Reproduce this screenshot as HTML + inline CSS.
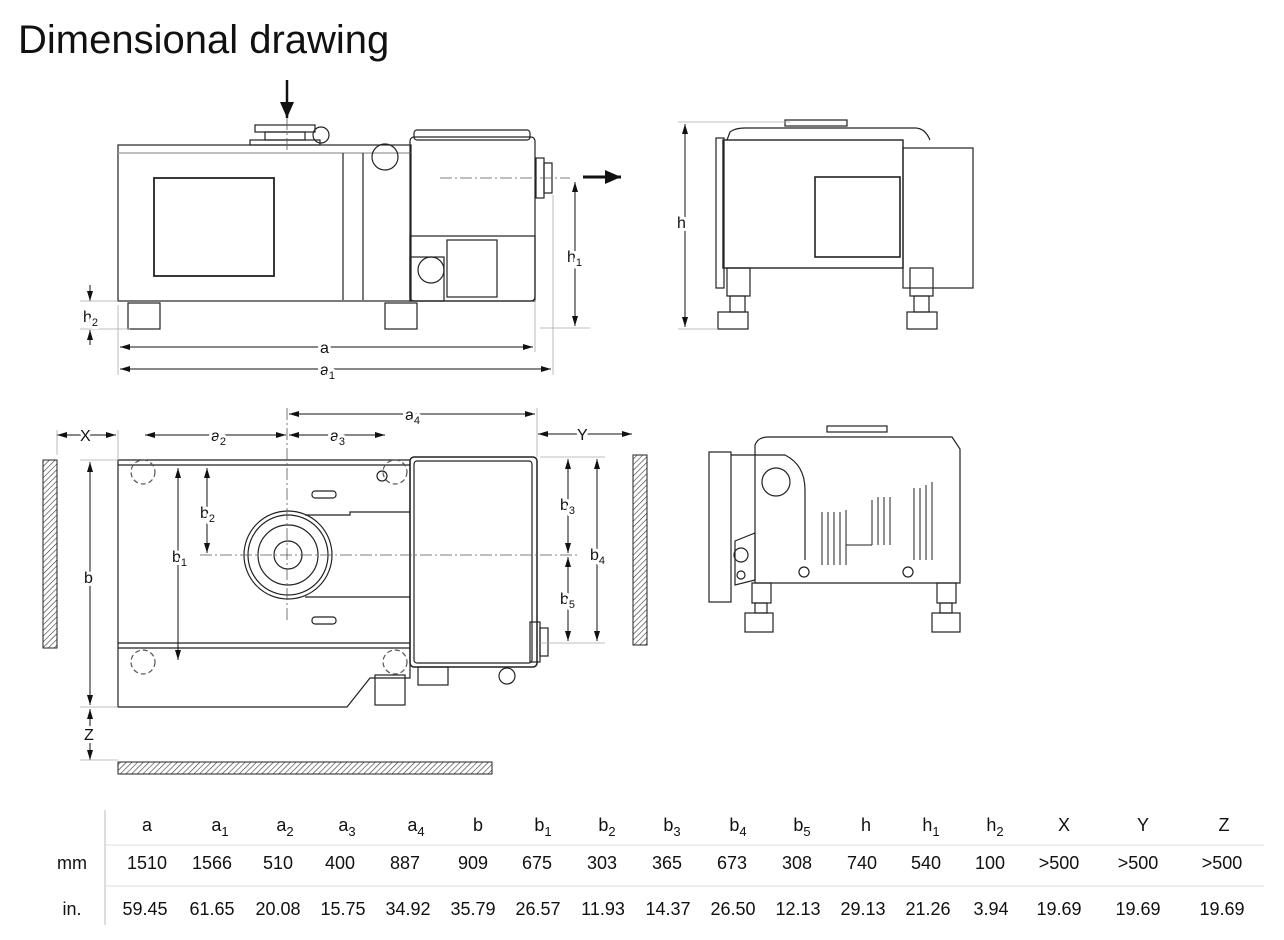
<!DOCTYPE html>
<html><head><meta charset="utf-8"><style>
body{margin:0;background:#fff}
svg{display:block}
text{font-family:"Liberation Sans",sans-serif;fill:#111}
.lb text{paint-order:stroke;stroke:#fff;stroke-width:6px;stroke-linejoin:round}
</style></head><body>
<svg width="1284" height="940" viewBox="0 0 1284 940" xmlns="http://www.w3.org/2000/svg">
<defs>
<pattern id="h" width="4" height="4" patternUnits="userSpaceOnUse" patternTransform="rotate(45)"><line x1="0" y1="0" x2="0" y2="4" stroke="#333" stroke-width="1.2"/></pattern>
<marker id="ar" markerWidth="10" markerHeight="6" refX="10" refY="3" orient="auto-start-reverse" markerUnits="userSpaceOnUse"><path d="M0,0 L10,3 L0,6z" fill="#111"/></marker>
<marker id="big" markerWidth="16" markerHeight="14" refX="16" refY="7" orient="auto" markerUnits="userSpaceOnUse"><path d="M0,0 L16,7 L0,14z" fill="#111"/></marker>
</defs>
<text x="18" y="53" font-size="40" fill="#222">Dimensional drawing</text>

<g fill="none" stroke="#222" stroke-width="1.2">
<!-- top-left view -->
<rect x="118" y="145" width="293" height="156"/>
<line x1="118" y1="153" x2="411" y2="153" stroke="#999"/>
<rect x="154" y="178" width="120" height="98" stroke-width="1.8"/>
<line x1="343" y1="153" x2="343" y2="300"/><line x1="363" y1="153" x2="363" y2="300"/>
<rect x="410" y="137" width="125" height="164" rx="4"/>
<rect x="414" y="130" width="116" height="10" rx="3"/>
<rect x="410" y="236" width="125" height="65"/>
<rect x="410" y="257" width="34" height="44"/>
<circle cx="431" cy="270" r="13"/>
<rect x="447" y="240" width="50" height="57"/>
<rect x="536" y="158" width="8" height="40"/><rect x="544" y="163" width="8" height="30"/>
<rect x="255" y="125" width="60" height="7"/><rect x="265" y="132" width="40" height="8"/>
<rect x="250" y="140" width="70" height="5"/>
<circle cx="321" cy="135" r="8"/>
<circle cx="385" cy="157" r="13"/>
<rect x="128" y="303" width="32" height="26"/><rect x="385" y="303" width="32" height="26"/>
<!-- top-right view -->
<rect x="723" y="140" width="180" height="128" stroke-width="1.4"/>
<rect x="716" y="138" width="8" height="150"/>
<path d="M727 140 L730 132 Q735 128 745 128 L915 128 Q925 128 930 140"/>
<rect x="785" y="120" width="62" height="6"/>
<rect x="903" y="148" width="70" height="140"/>
<rect x="815" y="177" width="85" height="80" stroke-width="1.6"/>
<rect x="727" y="268" width="23" height="28"/><rect x="910" y="268" width="23" height="28"/>
<rect x="730" y="296" width="15" height="16"/><rect x="914" y="296" width="15" height="16"/>
<rect x="718" y="312" width="30" height="17"/><rect x="907" y="312" width="30" height="17"/>
<!-- bottom-left top view -->
<path d="M118 460 L410 460 L410 678 L370 678 L347 707 L118 707 Z"/>
<line x1="118" y1="465" x2="410" y2="465"/>
<line x1="118" y1="643" x2="410" y2="643"/><line x1="118" y1="648" x2="410" y2="648"/>
<rect x="410" y="457" width="127" height="210" rx="4" stroke-width="1.5"/>
<rect x="414" y="461" width="118" height="202" rx="3"/>
<circle cx="288" cy="555" r="44"/><circle cx="288" cy="555" r="40"/><circle cx="288" cy="555" r="30"/>
<circle cx="288" cy="555" r="14"/>
<path d="M305 515 L350 515 L350 512 L380 512 L410 512"/><path d="M305 597 L410 597"/>
<rect x="312" y="491" width="24" height="7" rx="3"/><rect x="312" y="617" width="24" height="7" rx="3"/>
<circle cx="382" cy="476" r="5"/>
<rect x="530" y="622" width="10" height="40"/><rect x="540" y="628" width="8" height="28"/>
<rect x="375" y="675" width="30" height="30"/>
<rect x="418" y="667" width="30" height="18"/>
<circle cx="507" cy="676" r="8"/>
<g stroke-dasharray="5,3" stroke="#555"><circle cx="143" cy="472" r="12"/><circle cx="395" cy="472" r="12"/><circle cx="143" cy="662" r="12"/><circle cx="395" cy="662" r="12"/></g>
<!-- bottom-right side view -->
<path d="M755 583 L755 445 Q758 437 768 437 L952 437 L960 449 L960 583 Z"/>
<rect x="709" y="452" width="22" height="150"/>
<path d="M731 455 L755 455 M735 541 L755 533 L755 580 L735 585 Z"/>
<path d="M755 455 L785 455 Q805 465 805 490 L805 560"/>
<circle cx="776" cy="482" r="14"/>
<circle cx="741" cy="555" r="7"/><circle cx="741" cy="575" r="4"/>
<rect x="827" y="426" width="60" height="6"/>
<g stroke-width="1"><path d="M822 565 L822 512 M828 565 L828 512 M834 565 L834 512 M840 565 L840 512 M846 565 L846 510 M846 545 L872 545 M872 545 L872 500 M878 545 L878 497 M884 545 L884 497 M890 545 L890 497 M914 560 L914 488 M920 560 L920 488 M926 560 L926 485 M932 560 L932 482"/></g>
<circle cx="804" cy="572" r="5"/><circle cx="908" cy="572" r="5"/>
<rect x="752" y="583" width="19" height="20"/><rect x="937" y="583" width="19" height="20"/>
<rect x="755" y="603" width="12" height="10"/><rect x="940" y="603" width="12" height="10"/>
<rect x="745" y="613" width="28" height="19"/><rect x="932" y="613" width="28" height="19"/>
</g>
<!-- hatches -->
<rect x="43" y="460" width="14" height="188" fill="url(#h)" stroke="#222"/>
<rect x="633" y="455" width="14" height="190" fill="url(#h)" stroke="#222"/>
<rect x="118" y="762" width="374" height="12" fill="url(#h)" stroke="#222"/>

<!-- center lines -->
<g stroke="#555" stroke-width="0.8" stroke-dasharray="12,3,2,3" fill="none">
<line x1="287" y1="118" x2="287" y2="150"/><line x1="440" y1="178" x2="570" y2="178"/>
<line x1="287" y1="408" x2="287" y2="620"/><line x1="200" y1="555" x2="580" y2="555"/>
</g>
<!-- dimensions -->
<g stroke="#111" stroke-width="1" fill="none">
<line x1="287" y1="80" x2="287" y2="118" stroke-width="2.5" marker-end="url(#big)"/>
<line x1="583" y1="177" x2="621" y2="177" stroke-width="3" marker-end="url(#big)"/>
<line x1="575" y1="182" x2="575" y2="326" marker-start="url(#ar)" marker-end="url(#ar)"/>
<line x1="90" y1="285" x2="90" y2="301" marker-end="url(#ar)"/><line x1="90" y1="345" x2="90" y2="330" marker-end="url(#ar)"/>
<line x1="120" y1="347" x2="533" y2="347" marker-start="url(#ar)" marker-end="url(#ar)"/>
<line x1="120" y1="369" x2="551" y2="369" marker-start="url(#ar)" marker-end="url(#ar)"/>
<line x1="685" y1="124" x2="685" y2="327" marker-start="url(#ar)" marker-end="url(#ar)"/>
<line x1="289" y1="414" x2="535" y2="414" marker-start="url(#ar)" marker-end="url(#ar)"/>
<line x1="145" y1="435" x2="286" y2="435" marker-start="url(#ar)" marker-end="url(#ar)"/>
<line x1="289" y1="435" x2="385" y2="435" marker-start="url(#ar)" marker-end="url(#ar)"/>
<line x1="57" y1="435" x2="116" y2="435" marker-start="url(#ar)" marker-end="url(#ar)"/>
<line x1="538" y1="434" x2="632" y2="434" marker-start="url(#ar)" marker-end="url(#ar)"/>
<line x1="90" y1="462" x2="90" y2="705" marker-start="url(#ar)" marker-end="url(#ar)"/>
<line x1="90" y1="709" x2="90" y2="760" marker-start="url(#ar)" marker-end="url(#ar)"/>
<line x1="178" y1="468" x2="178" y2="660" marker-start="url(#ar)" marker-end="url(#ar)"/>
<line x1="207" y1="468" x2="207" y2="553" marker-start="url(#ar)" marker-end="url(#ar)"/>
<line x1="568" y1="459" x2="568" y2="553" marker-start="url(#ar)" marker-end="url(#ar)"/>
<line x1="568" y1="557" x2="568" y2="641" marker-start="url(#ar)" marker-end="url(#ar)"/>
<line x1="597" y1="459" x2="597" y2="641" marker-start="url(#ar)" marker-end="url(#ar)"/>
</g>
<g stroke="#aaa" stroke-width="0.8">
<line x1="118" y1="305" x2="118" y2="375"/><line x1="535" y1="300" x2="535" y2="352"/><line x1="553" y1="195" x2="553" y2="375"/>
<line x1="80" y1="329" x2="130" y2="329"/><line x1="80" y1="301" x2="118" y2="301"/>
<line x1="540" y1="328" x2="590" y2="328"/><line x1="678" y1="122" x2="790" y2="122"/><line x1="678" y1="329" x2="718" y2="329"/>
<line x1="537" y1="408" x2="537" y2="457"/><line x1="118" y1="430" x2="118" y2="460"/><line x1="57" y1="430" x2="57" y2="455"/>
<line x1="80" y1="460" x2="118" y2="460"/><line x1="80" y1="707" x2="118" y2="707"/><line x1="80" y1="760" x2="118" y2="760"/>
<line x1="540" y1="457" x2="605" y2="457"/><line x1="540" y1="643" x2="605" y2="643"/>
</g>
<g font-size="16" class="lb">
<text x="567" y="262">h<tspan font-size="11" dy="4">1</tspan></text>
<text x="83" y="322">h<tspan font-size="11" dy="4">2</tspan></text>
<text x="320" y="353">a</text>
<text x="320" y="375">a<tspan font-size="11" dy="4">1</tspan></text>
<text x="677" y="228">h</text>
<text x="405" y="420">a<tspan font-size="11" dy="4">4</tspan></text>
<text x="211" y="441">a<tspan font-size="11" dy="4">2</tspan></text>
<text x="330" y="441">a<tspan font-size="11" dy="4">3</tspan></text>
<text x="80" y="441">X</text>
<text x="577" y="440">Y</text>
<text x="84" y="583">b</text>
<text x="172" y="562">b<tspan font-size="11" dy="4">1</tspan></text>
<text x="200" y="518">b<tspan font-size="11" dy="4">2</tspan></text>
<text x="560" y="510">b<tspan font-size="11" dy="4">3</tspan></text>
<text x="590" y="560">b<tspan font-size="11" dy="4">4</tspan></text>
<text x="560" y="604">b<tspan font-size="11" dy="4">5</tspan></text>
<text x="84" y="740">Z</text>
</g>
<!-- table -->
<line x1="105" y1="810" x2="105" y2="925" stroke="#bbb"/>
<line x1="105" y1="845" x2="1264" y2="845" stroke="#ddd"/>
<line x1="105" y1="886" x2="1264" y2="886" stroke="#ddd"/>
<g font-size="18" text-anchor="middle" fill="#222">
<text x="147" y="831">a</text><text x="220" y="831">a<tspan font-size="13" dy="5">1</tspan></text><text x="285" y="831">a<tspan font-size="13" dy="5">2</tspan></text><text x="347" y="831">a<tspan font-size="13" dy="5">3</tspan></text><text x="416" y="831">a<tspan font-size="13" dy="5">4</tspan></text><text x="478" y="831">b</text><text x="543" y="831">b<tspan font-size="13" dy="5">1</tspan></text><text x="607" y="831">b<tspan font-size="13" dy="5">2</tspan></text><text x="672" y="831">b<tspan font-size="13" dy="5">3</tspan></text><text x="738" y="831">b<tspan font-size="13" dy="5">4</tspan></text><text x="802" y="831">b<tspan font-size="13" dy="5">5</tspan></text><text x="866" y="831">h</text><text x="931" y="831">h<tspan font-size="13" dy="5">1</tspan></text><text x="995" y="831">h<tspan font-size="13" dy="5">2</tspan></text><text x="1064" y="831">X</text><text x="1143" y="831">Y</text><text x="1224" y="831">Z</text>
<text x="72" y="869">mm</text>
<text x="147" y="869">1510</text><text x="212" y="869">1566</text><text x="278" y="869">510</text><text x="340" y="869">400</text><text x="405" y="869">887</text><text x="473" y="869">909</text><text x="537" y="869">675</text><text x="602" y="869">303</text><text x="667" y="869">365</text><text x="732" y="869">673</text><text x="797" y="869">308</text><text x="862" y="869">740</text><text x="926" y="869">540</text><text x="990" y="869">100</text><text x="1059" y="869">&gt;500</text><text x="1138" y="869">&gt;500</text><text x="1222" y="869">&gt;500</text>
<text x="72" y="915">in.</text>
<text x="145" y="915">59.45</text><text x="212" y="915">61.65</text><text x="278" y="915">20.08</text><text x="343" y="915">15.75</text><text x="408" y="915">34.92</text><text x="473" y="915">35.79</text><text x="538" y="915">26.57</text><text x="603" y="915">11.93</text><text x="668" y="915">14.37</text><text x="733" y="915">26.50</text><text x="798" y="915">12.13</text><text x="863" y="915">29.13</text><text x="928" y="915">21.26</text><text x="991" y="915">3.94</text><text x="1059" y="915">19.69</text><text x="1138" y="915">19.69</text><text x="1222" y="915">19.69</text>
</g>
</svg>
</body></html>
